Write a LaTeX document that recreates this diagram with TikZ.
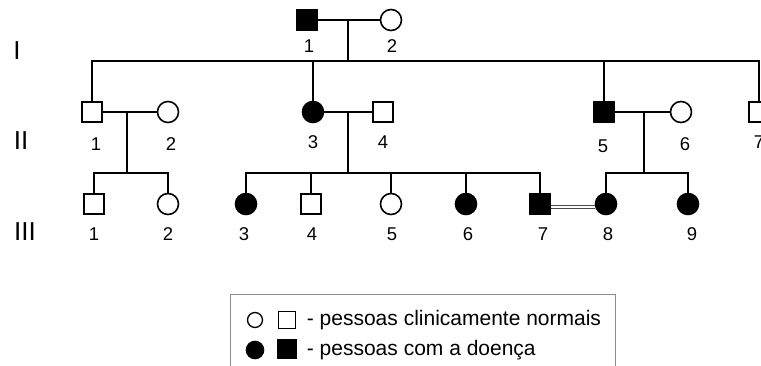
\documentclass[tikz,border=0pt]{standalone}
\usepackage{fontspec}
\setmainfont{Liberation Sans}

\begin{document}
\begin{tikzpicture}[x=1pt,y=-1pt,line width=1.8pt,
        male/.style={draw,rectangle,minimum size=20pt,inner sep=0pt,line width=1.6pt},
        female/.style={draw,circle,minimum size=21pt,inner sep=0pt,line width=1.6pt},
        ill/.style={fill=black},
        num/.style={font=\fontsize{18.5}{22}\selectfont},
        gen/.style={font=\fontsize{26}{30}\selectfont},
        legtext/.style={font=\fontsize{21}{25}\selectfont,anchor=west,inner sep=0pt}]
        \useasboundingbox (0,0) rectangle (761,366);
        \clip (0,0) rectangle (761,366);

        % generations
        \node[gen] (gI) at (17,51){I};
        \node[gen] (gII) at (21,141){II};
        \node[gen] (gIII) at (25,232){III};

        % I
        \node[male,ill] (I1) at (307,20){};
        \node[female] (I2) at (391,20){};
        \node[num] (nI1) at (309,46){1};
        \node[num] (nI2) at (392,46){2};
        \draw (I1)--(I2);
        \coordinate (mI) at (348,20);
        \coordinate (sI) at (348,61);
        \draw (mI)--(sI);

        % II
        \node[male] (II1) at (92,112){};
        \node[female] (II2) at (168,112){};
        \node[female,ill] (II3) at (313,112){};
        \node[male] (II4) at (383,112){};
        \node[male,ill] (II5) at (604,112){};
        \node[female] (II6) at (681,112){};
        \node[male] (II7) at (759,112){};
        \node[num] (nII1) at (96,144){1};
        \node[num] (nII2) at (171,144){2};
        \node[num] (nII3) at (313,142){3};
        \node[num] (nII4) at (383,142){4};
        \node[num] (nII5) at (603,146){5};
        \node[num] (nII6) at (685,144){6};
        \node[num] (nII7) at (759,142){7};
        \draw (II1.north)--(II1.north |- sI)--(II7.north |- sI)--(II7.north);
        \draw (II3.north)--(II3.north |- sI);
        \draw (II5.north)--(II5.north |- sI);
        \draw (II1)--(II2);
        \draw (II3)--(II4);
        \draw (II5)--(II6);
        \coordinate (mII1) at (127,112);
        \coordinate (sII1) at (127,173);
        \coordinate (mII3) at (348,112);
        \coordinate (sII3) at (348,173);
        \coordinate (mII5) at (644,112);
        \coordinate (sII5) at (644,173);
        \draw (mII1)--(sII1);
        \draw (mII3)--(sII3);
        \draw (mII5)--(sII5);

        % III
        \node[male] (III1) at (94,204){};
        \node[female] (III2) at (168,204){};
        \node[female,ill] (III3) at (246,204){};
        \node[male] (III4) at (311,204){};
        \node[female] (III5) at (391,204){};
        \node[female,ill] (III6) at (466,204){};
        \node[male,ill] (III7) at (540,204){};
        \node[female,ill] (III8) at (606,204){};
        \node[female,ill] (III9) at (688,204){};
        \foreach \i/\x in {1/94,2/168,3/244,4/312,5/392,6/468,7/543,8/608,9/692}
            \node[num] (nIII\i) at (\x,234){\i};
        \draw (III1.north)--(III1.north |- sII1)--(III2.north |- sII1)--(III2.north);
        \draw (III3.north)--(III3.north |- sII3)--(III7.north |- sII3)--(III7.north);
        \foreach \k in {4,5,6}
            \draw (III\k.north)--(III\k.north |- sII3);
        \draw (III8.north)--(III8.north |- sII5)--(III9.north |- sII5)--(III9.north);
        \draw[line width=0.9pt,black!70,double=white,double distance=2.2pt,transform canvas={yshift=-3pt}] (III7)--(III8);

        % legend
        \node[draw=black!45,line width=1pt,anchor=north west,minimum width=385pt,minimum height=100pt] (leg) at (230,294){};
        \node[female,minimum size=15pt,line width=1.3pt] (lf) at (255,320){};
        \node[male,minimum size=17pt,line width=1.3pt] (lm) at (287,320){};
        \node[legtext] (lt1) at (306,320){- pessoas clinicamente normais};
        \node[female,ill,minimum size=17pt] (lfa) at (255,350){};
        \node[male,ill,minimum size=18pt] (lma) at (287,349){};
        \node[legtext] (lt2) at (306,350){- pessoas com a doença};
\end{tikzpicture}
\end{document}
